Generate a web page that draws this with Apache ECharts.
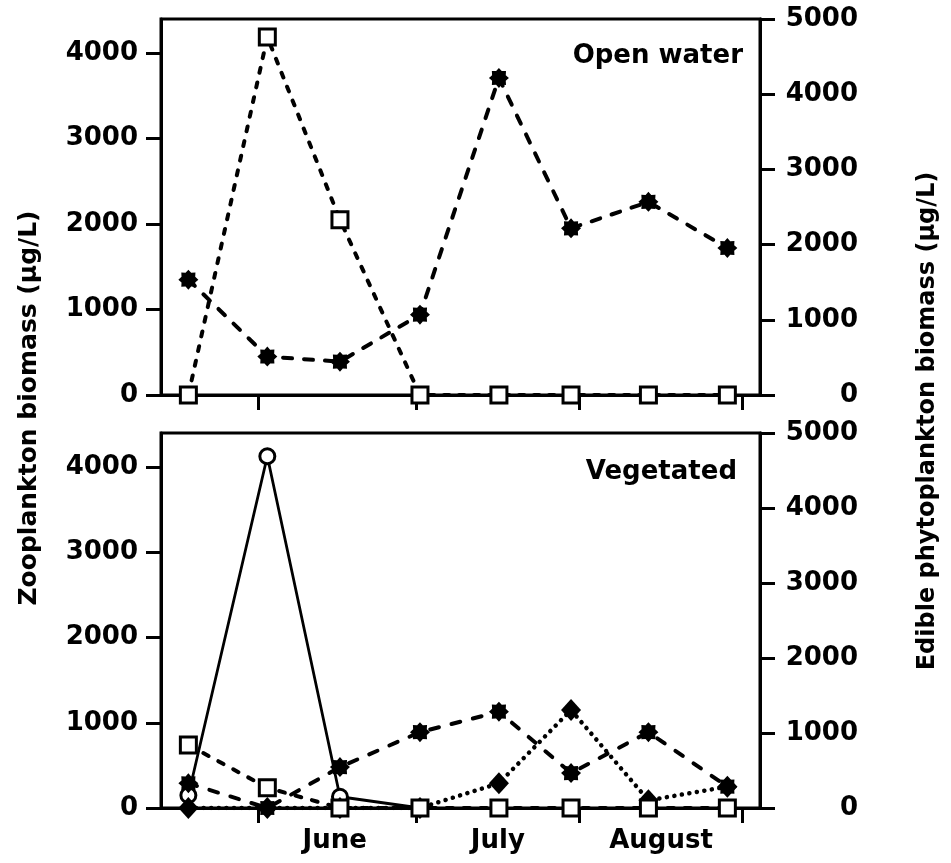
<!DOCTYPE html>
<html><head><meta charset="utf-8">
<script src="https://cdn.jsdelivr.net/npm/echarts@6/dist/echarts.min.js"></script>
<style>html,body{margin:0;padding:0;background:#fff}#c{width:951px;height:863px}</style>
</head><body><div id="c"></div>
<script>
// x = days since 1 May
const sampleDays = [17.7, 32.7, 46.5, 61.7, 76.7, 90.4, 105.1, 120.1];
const monthStartDays = [31, 61, 92, 123];
const monthLabelDays = [45.5, 76.5, 107.5];
const monthNames = ['June', 'July', 'August'];
const leftTicks = [0, 1000, 2000, 3000, 4000];
const rightTicks = [0, 1000, 2000, 3000, 4000, 5000];
const panelNames = ['Open water', 'Vegetated'];
const leftTitle = 'Zooplankton biomass (µg/L)';
const rightTitle = 'Edible phytoplankton biomass (µg/L)';

// Open water
const openStars = [1350, 450, 390, 940, 3710, 1950, 2260, 1720];   // left axis
const openSquares = [0, 4760, 2330, 0, 0, 0, 0, 0];                // right axis
// Vegetated
const vegCircles = [170, 4690, 150, 0];                            // right axis
const vegSquares = [840, 270, 0, 0, 0, 0, 0, 0];                   // right axis
const vegStars = [290, 0, 480, 890, 1130, 410, 890, 250];          // left axis
const vegDiamonds = [0, 0, 0, 0, 290, 1150, 90, 250];              // left axis

const FONT = 'DejaVu Sans';
function pairs(vals) { return vals.map((v, i) => [sampleDays[i], v]); }
function starPath() {
  let p = '';
  for (let i = 0; i < 16; i++) {
    const a = Math.PI / 8 * i, r = i % 2 === 0 ? 1 : 0.74;
    p += (i ? 'L' : 'M') + (Math.sin(a) * r).toFixed(3) + ' ' + (-Math.cos(a) * r).toFixed(3) + ' ';
  }
  return 'path://' + p + 'Z';
}
const STAR = starPath();
const lbl = { fontFamily: FONT, fontWeight: 'bold', fontSize: 26, color: '#000' };
const axLine = { show: true, lineStyle: { color: '#000', width: 3 } };
const plain = v => String(v);

function xAx(gi, withLabels) {
  return {
    type: 'value', gridIndex: gi, min: 12.5, max: 126.3,
    axisLine: axLine, splitLine: { show: false },
    axisTick: { show: true, customValues: monthStartDays, length: 15, lineStyle: { color: '#000', width: 3 } },
    axisLabel: withLabels ? Object.assign({ customValues: monthLabelDays, margin: 20,
      formatter: v => monthNames[monthLabelDays.indexOf(v)] }, lbl) : { show: false }
  };
}
function yLeft(gi) {
  return {
    type: 'value', gridIndex: gi, position: 'left', min: 0, max: 4400,
    axisLine: axLine, splitLine: { show: false },
    axisTick: { show: true, customValues: leftTicks, length: 15, lineStyle: { color: '#000', width: 3 } },
    axisLabel: Object.assign({ customValues: leftTicks, margin: 23, formatter: plain }, lbl)
  };
}
function yRight(gi) {
  return {
    type: 'value', gridIndex: gi, position: 'right', min: 0, max: 5000, interval: 1000,
    axisLine: axLine, splitLine: { show: false },
    axisTick: { show: true, customValues: rightTicks, length: 15, lineStyle: { color: '#000', width: 3 } },
    axisLabel: Object.assign({ customValues: rightTicks, margin: 98, align: 'right', formatter: plain }, lbl)
  };
}
function ser(xi, yi, vals, symbol, size, filled, line, z) {
  return {
    type: 'line', xAxisIndex: xi, yAxisIndex: yi, data: pairs(vals), z: z,
    symbol: symbol, symbolSize: size, showAllSymbol: true, animation: false,
    itemStyle: filled ? { color: '#000', borderColor: '#000', borderWidth: 0 }
                      : { color: '#fff', borderColor: '#000', borderWidth: 3 },
    lineStyle: Object.assign({ color: '#000' }, line)
  };
}

const chart = echarts.init(document.getElementById('c'), null, { renderer: 'canvas' });
chart.setOption({
  animation: false,
  backgroundColor: '#fff',
  grid: [
    { left: 161, top: 19, width: 599, height: 376, show: true, borderColor: '#000', borderWidth: 3 },
    { left: 161, top: 433, width: 599, height: 375, show: true, borderColor: '#000', borderWidth: 3 }
  ],
  xAxis: [xAx(0, false), xAx(1, true)],
  yAxis: [yLeft(0), yRight(0), yLeft(1), yRight(1)],
  series: [
    ser(0, 0, openStars, STAR, 20, true, { type: [9, 12], width: 4, cap: 'round' }, 3),
    ser(0, 1, openSquares, 'rect', 16, false, { type: [5, 10], width: 4, cap: 'round' }, 4),
    ser(1, 3, vegCircles, 'circle', 15, false, { type: 'solid', width: 2.8 }, 2),
    ser(1, 2, vegDiamonds, 'diamond', [20, 22], true, { type: [0.1, 7.5], width: 4.5, cap: 'round' }, 3),
    ser(1, 2, vegStars, STAR, 20, true, { type: [9, 13], width: 4, cap: 'round' }, 4),
    ser(1, 3, vegSquares, 'rect', 16, false, { type: [6, 11], width: 4, cap: 'round' }, 5)
  ],
  graphic: [
    { type: 'text', x: 743, y: 56, style: { text: panelNames[0], font: 'bold 26px "DejaVu Sans"', fill: '#000', align: 'right', verticalAlign: 'middle' } },
    { type: 'text', x: 737, y: 472, style: { text: panelNames[1], font: 'bold 26px "DejaVu Sans"', fill: '#000', align: 'right', verticalAlign: 'middle' } },
    { type: 'text', x: 29, y: 408, rotation: Math.PI / 2, style: { text: leftTitle, font: 'bold 25px "DejaVu Sans"', fill: '#000', align: 'center', verticalAlign: 'middle' } },
    { type: 'text', x: 928, y: 421, rotation: Math.PI / 2, style: { text: rightTitle, font: 'bold 24px "DejaVu Sans"', fill: '#000', align: 'center', verticalAlign: 'middle' } }
  ]
});
</script></body></html>
